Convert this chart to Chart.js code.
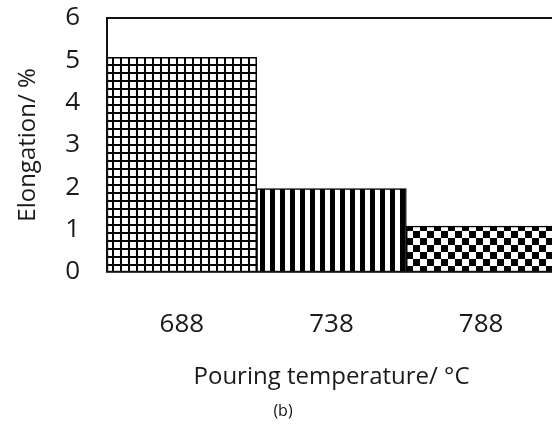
<!DOCTYPE html>
<html>
<head>
<meta charset="utf-8">
<script src="https://cdn.jsdelivr.net/npm/chart.js@4.4.1/dist/chart.umd.min.js"></script>
<style>
  html, body { margin: 0; padding: 0; background: #fff; overflow: hidden; }
  #wrap { width: 552px; height: 424px; overflow: hidden; }
</style>
</head>
<body>
<div id="wrap"><canvas id="c" width="556" height="424"></canvas></div>
<script>
// data
const temps = ['688', '738', '788'];
const elongation = [5.07, 1.97, 1.08];
const yMin = 0, yMax = 6, yStep = 1;
const xTitle = 'Pouring temperature/ \u00B0C';
const yTitle = 'Elongation/ %';
const caption = '(b)';

// fill patterns (grid, vertical stripes, checkerboard)
function tile(w, h, draw) {
  const cv = document.createElement('canvas');
  cv.width = w; cv.height = h;
  const g = cv.getContext('2d');
  g.fillStyle = '#fff';
  g.fillRect(0, 0, w, h);
  g.fillStyle = '#000';
  draw(g);
  return document.getElementById('c').getContext('2d').createPattern(cv, 'repeat');
}
const gridFill = tile(8, 8, g => { g.fillRect(0, 0, 2, 8); g.fillRect(0, 0, 8, 2); });
const stripeFill = tile(10, 10, g => { g.fillRect(0, 0, 5, 10); });
const checkFill = tile(14, 14, g => { g.fillRect(0, 0, 7, 7); g.fillRect(7, 7, 7, 7); });

const frame = {
  id: 'frame',
  afterDatasetsDraw(chart) {
    const a = chart.chartArea, ctx = chart.ctx;
    ctx.save();
    ctx.strokeStyle = '#111';
    ctx.lineWidth = 2;
    ctx.strokeRect(a.left, a.top, a.right - a.left, a.bottom - a.top);
    ctx.restore();
  }
};

const font = 'Open Sans';

new Chart(document.getElementById('c'), {
  type: 'bar',
  data: {
    labels: temps,
    datasets: [{
      data: elongation,
      backgroundColor: [gridFill, stripeFill, checkFill],
      borderColor: '#000',
      borderWidth: 1.5,
      barPercentage: 1,
      categoryPercentage: 1
    }]
  },
  options: {
    responsive: false,
    animation: false,
    layout: { padding: { top: 18, left: 10, right: 0, bottom: 0 } },
    plugins: {
      legend: { display: false },
      tooltip: { enabled: false },
      title: {
        display: true,
        position: 'bottom',
        text: caption,
        color: '#111',
        font: { family: font, size: 16, weight: 'normal' },
        padding: { top: 10, bottom: 3 }
      }
    },
    scales: {
      x: {
        grid: { display: false, drawTicks: false },
        border: { display: false },
        ticks: { color: '#1a1a1a', padding: 37, font: { family: font, size: 26 } },
        title: {
          display: true, text: xTitle, color: '#1a1a1a',
          font: { family: font, size: 24 }, padding: { top: 0, bottom: 0 }
        },
        afterFit: s => { s.height = 120; s.paddingLeft = 0; s.paddingRight = 0; }
      },
      y: {
        min: yMin, max: yMax,
        grid: { display: false, drawTicks: false },
        border: { display: false },
        ticks: { stepSize: yStep, color: '#1a1a1a', padding: 27, font: { family: font, size: 26 } },
        title: {
          display: true, text: yTitle, color: '#1a1a1a',
          font: { family: font, size: 24 }, padding: { top: 4, bottom: 0 }
        },
        afterFit: s => { s.width = 97; s.paddingTop = 0; s.paddingBottom = 0; }
      }
    }
  },
  plugins: [frame]
});
</script>
</body>
</html>
